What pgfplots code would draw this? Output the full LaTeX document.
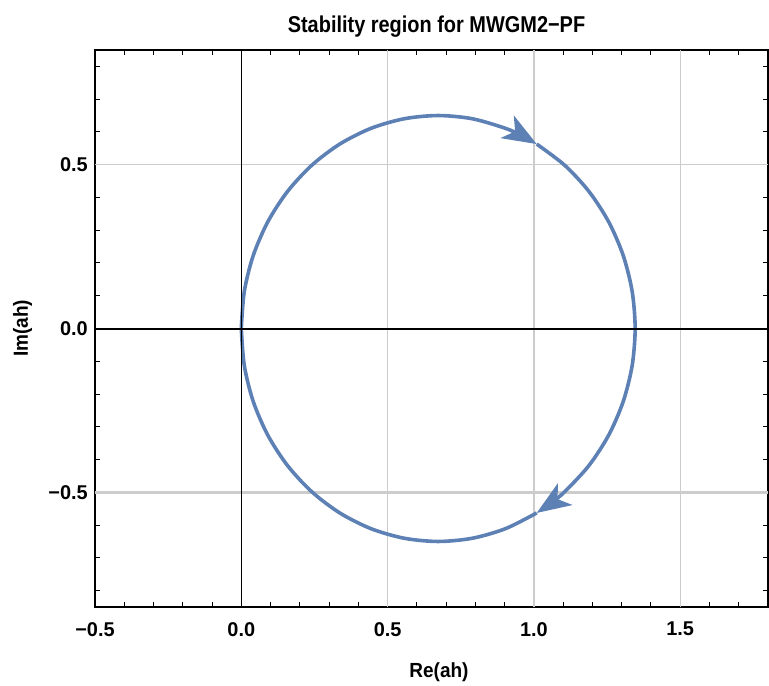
\documentclass[border=0pt]{standalone}
\usepackage{pgfplots}
\pgfplotsset{compat=1.18}
\usepackage{fontspec}
\setmainfont{Liberation Sans}
\usetikzlibrary{arrows.meta}
\definecolor{mblue}{rgb}{0.368,0.506,0.710}
\definecolor{gridc}{gray}{0.80}
\begin{document}
\begin{tikzpicture}
\path[use as bounding box] (-95bp,-79bp) rectangle (674bp,607bp);
\begin{axis}[
  at={(0,0)}, anchor=south west,
  scale only axis, width=673bp, height=557bp,
  xmin=-0.5, xmax=1.8, ymin=-0.85, ymax=0.85,
  xtick={-0.5,0,0.5,1,1.5}, xticklabels={−0.5,0.0,0.5,1.0,1.5},
  ytick={-0.5,0,0.5}, yticklabels={−0.5,0.0,0.5},
  minor xtick={-0.4,-0.3,-0.2,-0.1,0.1,0.2,0.3,0.4,0.6,0.7,0.8,0.9,1.1,1.2,1.3,1.4,1.6,1.7},
  minor ytick={-0.8,-0.7,-0.6,-0.4,-0.3,-0.2,-0.1,0.1,0.2,0.3,0.4,0.6,0.7,0.8},
  tick align=inside,
  major tick length=9bp, minor tick length=5bp,
  every tick/.style={black, line width=1bp},
  axis line style={black, line width=1.3bp},
  ticklabel style={font=\fontsize{20}{20}\selectfont\bfseries},
  xticklabel style={inner sep=0pt, anchor=north, yshift=-15bp},
  yticklabel style={inner sep=0pt, anchor=east, xshift=-7bp},
]
% grid lines
\draw[gridc, line width=1.2bp] (axis cs:0.5,-0.85) -- (axis cs:0.5,0.85);
\draw[gridc, line width=1.2bp] (axis cs:1.0,-0.85) -- (axis cs:1.0,0.85);
\draw[gridc, line width=1.2bp] (axis cs:1.5,-0.85) -- (axis cs:1.5,0.85);
\draw[gridc, line width=1.2bp] (axis cs:-0.5,0.5) -- (axis cs:1.8,0.5);
\draw[gridc, line width=2.8bp] (axis cs:-0.5,-0.5) -- (axis cs:1.8,-0.5);
% curve
\addplot[mblue, line width=3.6bp, smooth, line join=round, -{Stealth[length=34bp,width=26bp,inset=9bp]}] coordinates {
(0,0) (0.0102,0.1129) (0.0406,0.2223) (0.0902,0.325) (0.1575,0.4178) (0.2404,0.4979) (0.3365,0.5629) (0.4428,0.6108) (0.5562,0.6401) (0.673,0.65) (0.7898,0.6401) (0.9032,0.6108) (0.9574,0.5891) (1.0095,0.5629)
};
\addplot[mblue, line width=3.6bp, smooth, line join=round, -{Stealth[length=34bp,width=26bp,inset=9bp]}] coordinates {
(1.0095,0.5629) (1.1056,0.4979) (1.1885,0.4178) (1.2558,0.325) (1.3054,0.2223) (1.3358,0.1129) (1.346,0) (1.3358,-0.1129) (1.3054,-0.2223) (1.2558,-0.325) (1.1885,-0.4178) (1.1056,-0.4979) (1.059,-0.5325) (1.0095,-0.5629)
};
\addplot[mblue, line width=3.6bp, smooth, line join=round] coordinates {
(1.0095,-0.5629) (0.9032,-0.6108) (0.7898,-0.6401) (0.673,-0.65) (0.5562,-0.6401) (0.4428,-0.6108) (0.3365,-0.5629) (0.2404,-0.4979) (0.1575,-0.4178) (0.0902,-0.325) (0.0406,-0.2223) (0.0102,-0.1129) (0,0)
};
% axes through origin
\draw[black, line width=1.3bp] (axis cs:0,-0.85) -- (axis cs:0,0.85);
\draw[black, line width=2bp] (axis cs:-0.5,0) -- (axis cs:1.8,0);
\end{axis}
\node[anchor=base, inner sep=0pt, font=\fontsize{23}{23}\selectfont\bfseries] at (341.5bp,574.7bp) {\scalebox{0.87}[1]{Stability region for MWGM2−PF}};
\node[anchor=base, inner sep=0pt, font=\fontsize{20.5}{20.5}\selectfont\bfseries] at (344bp,-70bp) {\scalebox{0.93}[1]{Re(ah)}};
\node[anchor=center, inner sep=0pt, rotate=90, font=\fontsize{20.5}{20.5}\selectfont\bfseries] at (-72.5bp,278.7bp) {\scalebox{0.93}[1]{Im(ah)}};
\end{tikzpicture}
\end{document}
